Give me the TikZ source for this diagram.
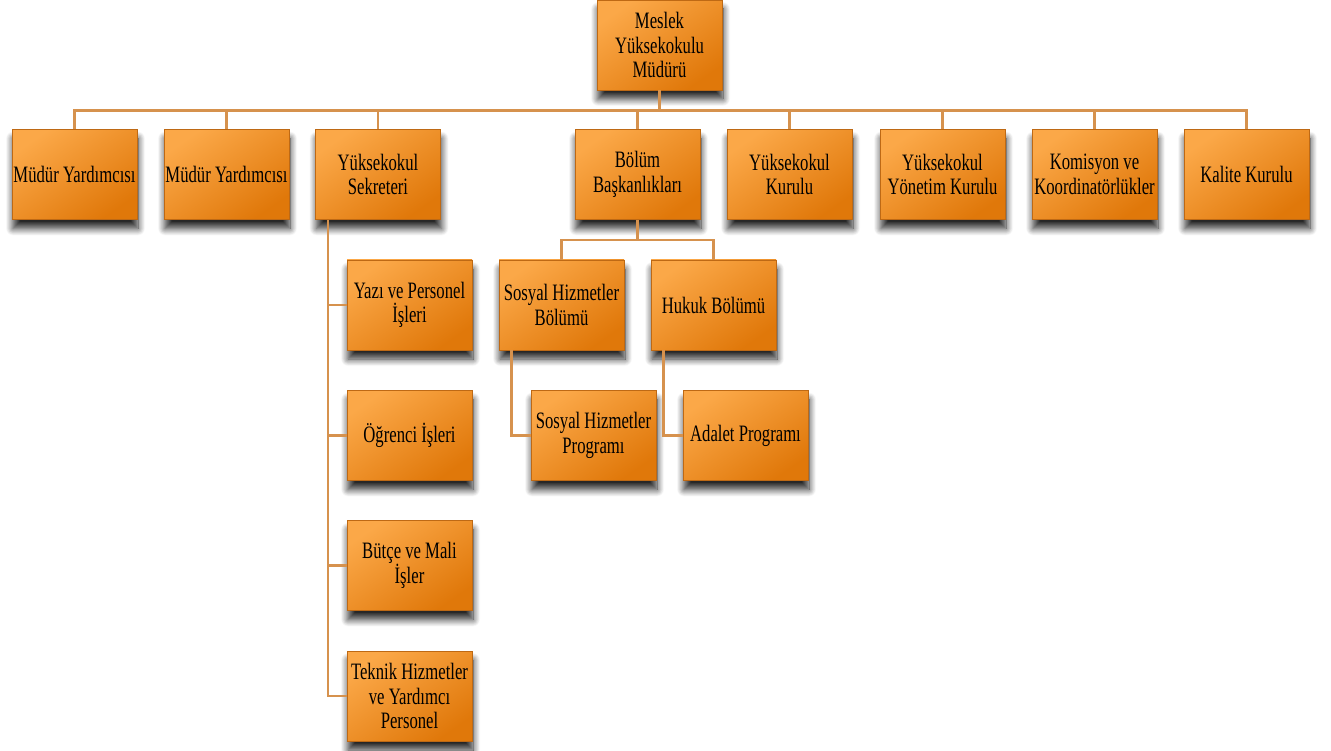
\documentclass[tikz,border=0pt]{standalone}
\usepackage{fontspec}
\setmainfont{Liberation Serif}[FakeStretch=0.71]
\usetikzlibrary{shadows.blur}
\definecolor{boxlight}{RGB}{251,168,72}
\definecolor{boxdark}{RGB}{224,120,10}
\definecolor{boxedge}{RGB}{190,105,20}
\definecolor{linkcol}{RGB}{214,146,78}
\begin{document}
\begin{tikzpicture}[x=1pt,y=-1pt,
  orgbox/.style={draw=boxedge, line width=0.8pt, top color=boxlight, bottom color=boxdark, shading angle=35,
    minimum width=125pt, minimum height=90pt, inner sep=0pt, align=center,
    font=\fontsize{23.5}{24.5}\selectfont,
    blur shadow={shadow xshift=1pt, shadow yshift=-9pt, shadow blur radius=7pt, shadow blur steps=12, shadow opacity=85}},
  link/.style={draw=linkcol, line width=2.5pt}]
\useasboundingbox (0,0) rectangle (1331,751);
% top
\node[orgbox] (top) at (659.5,45) {Meslek\\Yüksekokulu\\Müdürü};
% row 1
\node[orgbox] (my1) at (74.5,174.5) {Müdür Yardımcısı};
\node[orgbox] (my2) at (226.5,174.5) {Müdür Yardımcısı};
\node[orgbox] (sek) at (378,174.5) {Yüksekokul\\Sekreteri};
\node[orgbox] (bol) at (637.5,174.5) {Bölüm\\Başkanlıkları};
\node[orgbox] (yk) at (789.5,174.5) {Yüksekokul\\Kurulu};
\node[orgbox] (ykk) at (942.5,174.5) {Yüksekokul\\Yönetim Kurulu};
\node[orgbox] (kom) at (1094.5,174.5) {Komisyon ve\\Koordinatörlükler};
\node[orgbox] (kal) at (1246.5,174.5) {Kalite Kurulu};
% sekreter column
\node[orgbox] (s1) at (409.5,305) {Yazı ve Personel\\İşleri};
\node[orgbox] (s2) at (409.5,435.5) {Öğrenci İşleri};
\node[orgbox] (s3) at (409.5,565.5) {Bütçe ve Mali\\İşler};
\node[orgbox] (s4) at (409.5,696) {Teknik Hizmetler\\ve Yardımcı\\Personel};
% departments
\node[orgbox] (shb) at (561.5,305) {Sosyal Hizmetler\\Bölümü};
\node[orgbox] (hb) at (713.5,305) {Hukuk Bölümü};
\node[orgbox] (shp) at (593.5,435.5) {Sosyal Hizmetler\\Programı};
\node[orgbox] (ap) at (745.5,435.5) {Adalet Programı};
% connectors
\coordinate (bus) at ($(top.south)+(0,20)$);
\foreach \c in {my1,my2,sek,bol,yk,ykk,kom,kal}{
  \draw[link] (top.south) -- (bus) -| (\c.north);
}
\foreach \c in {s1,s2,s3,s4}{
  \draw[link] ([xshift=13pt]sek.south west) |- (\c.west);
}
\coordinate (bbus) at ($(bol.south)+(0,20)$);
\foreach \c in {shb,hb}{
  \draw[link] (bol.south) -- (bbus) -| (\c.north);
}
\draw[link] ([xshift=13pt]shb.south west) |- (shp.west);
\draw[link] ([xshift=13pt]hb.south west) |- (ap.west);
\end{tikzpicture}
\end{document}
